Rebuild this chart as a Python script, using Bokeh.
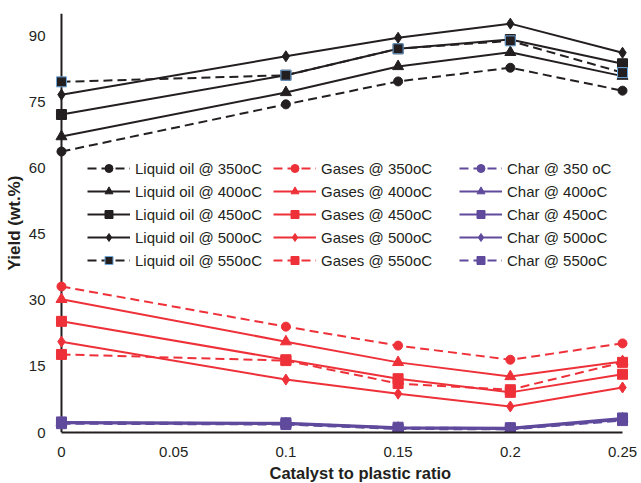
from bokeh.plotting import figure
from bokeh.models import (Range1d, FixedTicker, NumeralTickFormatter, Legend,
                          LegendItem, Span, Title)
from bokeh.embed import file_html
from bokeh.resources import INLINE

# ---------------- data ----------------
ratio = [0, 0.1, 0.15, 0.2, 0.25]
temps = ["350", "400", "450", "500", "550"]

oil_350 = [63.7, 74.4, 79.6, 82.7, 77.5]
oil_400 = [67.1, 77.1, 83.0, 86.2, 80.8]
oil_450 = [72.1, 81.0, 87.0, 89.1, 83.6]
oil_500 = [76.6, 85.3, 89.5, 92.7, 86.1]
oil_550 = [79.5, 81.0, 87.0, 88.8, 81.6]

gas_350 = [33.1, 24.0, 19.7, 16.5, 20.2]
gas_400 = [30.2, 20.6, 15.9, 12.7, 16.1]
gas_450 = [25.2, 16.5, 12.2, 9.1, 13.2]
gas_500 = [20.6, 12.0, 8.8, 5.9, 10.2]
gas_550 = [17.7, 16.3, 11.1, 9.7, 15.9]

char_350 = [2.3, 2.1, 1.1, 1.0, 3.0]
char_400 = [2.2, 2.0, 1.0, 0.9, 3.1]
char_450 = [2.4, 2.2, 1.2, 1.1, 3.3]
char_500 = [2.1, 1.9, 0.9, 0.8, 2.9]
char_550 = [2.0, 1.8, 0.8, 0.7, 2.7]

oil_labels = ["Liquid oil @ 350oC", "Liquid oil @ 400oC", "Liquid oil @ 450oC",
              "Liquid oil @ 500oC", "Liquid oil @ 550oC"]
gas_labels = ["Gases @ 350oC", "Gases @ 400oC", "Gases @ 450oC",
              "Gases @ 500oC", "Gases @ 550oC"]
char_labels = ["Char @ 350 oC", "Char @ 400oC", "Char @ 450oC",
               "Char @ 500oC", "Char @ 550oC"]

x_ticks = [0, 0.05, 0.1, 0.15, 0.2, 0.25]
y_ticks = [0, 15, 30, 45, 60, 75, 90]
x_title = "Catalyst to plastic ratio"
y_title = "Yield (wt.%)"

# ---------------- styles ----------------
BLACK = "#231f20"
RED = "#ee3139"
PURPLE = "#5f4a9c"
FONT = "Liberation Sans"

markers = ["circle", "triangle", "square", "diamond", "square"]
msizes = [9, 11, 10, 11, 10]
dashes = ["9 5", "solid", "solid", "solid", "9 5"]

p = figure(width=641, height=483, output_backend="svg", toolbar_location=None,
           x_range=Range1d(-0.004, 0.254), y_range=Range1d(0, 95),
           min_border_left=52, min_border_right=10, min_border_top=13,
           min_border_bottom=51)
p.outline_line_color = None
p.xgrid.visible = False
p.ygrid.visible = False
p.background_fill_color = "white"

# axes
for ax in (p.xaxis[0], p.yaxis[0]):
    ax.major_tick_out = 0
    ax.major_tick_in = 0
    ax.minor_tick_out = 0
    ax.minor_tick_in = 0
    ax.axis_line_color = BLACK
    ax.axis_line_width = 2
    ax.major_label_text_font = FONT
    ax.major_label_text_font_size = "15px"
    ax.major_label_text_color = BLACK

p.xaxis[0].ticker = FixedTicker(ticks=x_ticks)
p.xaxis[0].formatter = NumeralTickFormatter(format="0.[00]")
p.xaxis[0].bounds = (0, 0.25)
p.xaxis[0].major_label_standoff = 14

p.yaxis[0].ticker = FixedTicker(ticks=y_ticks)
p.yaxis[0].axis_line_color = None
p.yaxis[0].major_label_standoff = 7

# y axis line drawn at x = 0 (the data origin)
p.add_layout(Span(location=0, dimension="height", line_color=BLACK,
                  line_width=2, level="underlay"))


def add_group(series, labels, color, blue_edge_last=False):
    items = []
    for i, vals in enumerate(series):
        ln = p.line(ratio, vals, line_color=color, line_width=2,
                    line_dash=dashes[i])
        edge = color
        if blue_edge_last and i == 4:
            edge = "#6fa8dc"
        sc = p.scatter(ratio, vals, marker=markers[i], size=msizes[i],
                       fill_color=color, line_color=edge, line_width=1)
        items.append(LegendItem(label=labels[i], renderers=[ln, sc]))
    return items


char_items = add_group([char_350, char_400, char_450, char_500, char_550],
                       char_labels, PURPLE)
gas_items = add_group([gas_350, gas_400, gas_450, gas_500, gas_550],
                      gas_labels, RED)
oil_items = add_group([oil_350, oil_400, oil_450, oil_500, oil_550],
                      oil_labels, BLACK, blue_edge_last=True)


def make_legend(items, x):
    lg = Legend(items=items, location=(x, 162), orientation="vertical",
                glyph_width=43, glyph_height=20, label_height=20,
                label_standoff=5, spacing=3, padding=0, margin=0,
                label_text_font=FONT, label_text_font_size="15px",
                label_text_color=BLACK, background_fill_alpha=0,
                border_line_alpha=0)
    p.add_layout(lg, "center")


make_legend(oil_items, 35)
make_legend(gas_items, 221)
make_legend(char_items, 407)

# axis titles
p.add_layout(Title(text=x_title, align="left", offset=217, standoff=4,
                   text_font=FONT, text_font_style="bold",
                   text_font_size="16.5px", text_color=BLACK), "below")
p.add_layout(Title(text=y_title, align="center", standoff=3,
                   text_font=FONT, text_font_style="bold",
                   text_font_size="17px", text_color=BLACK), "left")

open("out.html", "w").write(file_html(p, INLINE))
